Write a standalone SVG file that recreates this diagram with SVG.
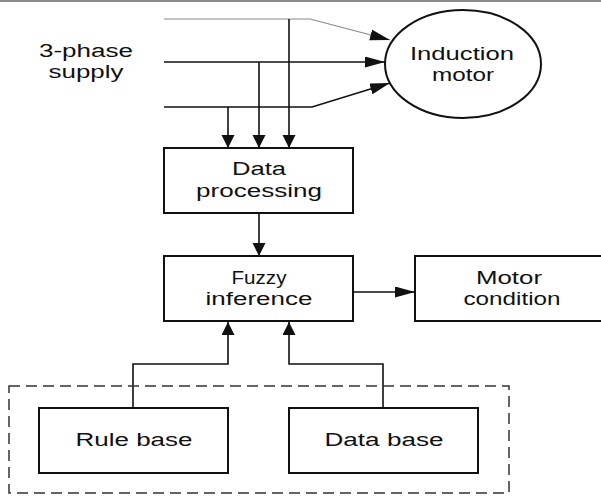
<svg xmlns="http://www.w3.org/2000/svg" width="601" height="497" viewBox="0 0 601 497">
<style>
.box{fill:#fff;stroke:#111;stroke-width:2}
.ln{fill:none;stroke:#111;stroke-width:1.6}
.thin{fill:none;stroke:#888;stroke-width:1.2}
.t{font-family:"Liberation Sans",Arial,sans-serif;font-size:18px;fill:#111;text-anchor:middle}
</style>
<defs>
<marker id="av" markerUnits="userSpaceOnUse" markerWidth="14" markerHeight="14" refX="13" refY="6.5" orient="auto"><path d="M0,0 L13,6.5 L0,13 Z" fill="#111"/></marker>
<marker id="ah" markerUnits="userSpaceOnUse" markerWidth="22" markerHeight="12" refX="20" refY="5.5" orient="auto"><path d="M0,0 L20,5.5 L0,11 Z" fill="#111"/></marker>
</defs>
<rect x="0" y="0" width="601" height="2" fill="#8a8a8a"/>
<g id="supply"><text class="t" x="86" y="57" textLength="94" lengthAdjust="spacingAndGlyphs">3-phase</text><text class="t" x="86" y="78" textLength="75" lengthAdjust="spacingAndGlyphs">supply</text></g>
<g id="connectors">
<path class="thin" d="M164,19 H310 L390,40" marker-end="url(#ah)"/>
<path class="ln" d="M164,62 H385" marker-end="url(#ah)"/>
<path class="ln" d="M164,107 H312 L390,83" marker-end="url(#ah)"/>
<path class="ln" d="M228,107 V148" marker-end="url(#av)"/>
<path class="ln" d="M259,62 V148" marker-end="url(#av)"/>
<path class="ln" d="M289,19 V148" marker-end="url(#av)"/>
<path class="ln" d="M259,213 V256" marker-end="url(#av)"/>
<path class="ln" d="M353,292 H415" marker-end="url(#ah)"/>
<path class="ln" d="M133,408 V364 H228 V322" marker-end="url(#av)"/>
<path class="ln" d="M383,408 V364 H289 V322" marker-end="url(#av)"/>
</g>
<g id="kb"><rect x="9" y="386" width="500" height="107" fill="none" stroke="#333" stroke-width="1.5" stroke-dasharray="11,6"/></g>
<g id="motor"><ellipse cx="463" cy="64" rx="78" ry="54" fill="#fff" stroke="#111" stroke-width="2"/>
<text class="t" x="462" y="60" textLength="104" lengthAdjust="spacingAndGlyphs">Induction</text><text class="t" x="463" y="81" textLength="62" lengthAdjust="spacingAndGlyphs">motor</text></g>
<g id="dataproc"><rect class="box" x="164" y="148" width="189" height="65"/>
<text class="t" x="259" y="175" textLength="54" lengthAdjust="spacingAndGlyphs">Data</text><text class="t" x="259" y="197" textLength="126" lengthAdjust="spacingAndGlyphs">processing</text></g>
<g id="fuzzy"><rect class="box" x="164" y="256" width="189" height="65"/>
<text class="t" x="259" y="284" textLength="55" lengthAdjust="spacingAndGlyphs">Fuzzy</text><text class="t" x="259" y="305" textLength="107" lengthAdjust="spacingAndGlyphs">inference</text></g>
<g id="condition"><rect class="box" x="415" y="256" width="200" height="65"/>
<text class="t" x="509" y="284" textLength="66" lengthAdjust="spacingAndGlyphs">Motor</text><text class="t" x="512" y="305" textLength="97" lengthAdjust="spacingAndGlyphs">condition</text></g>
<g id="rulebase"><rect class="box" x="39" y="408" width="189" height="65"/>
<text class="t" x="134" y="446" textLength="117" lengthAdjust="spacingAndGlyphs">Rule base</text></g>
<g id="database"><rect class="box" x="289" y="408" width="189" height="65"/>
<text class="t" x="384" y="446" textLength="119" lengthAdjust="spacingAndGlyphs">Data base</text></g>
</svg>
